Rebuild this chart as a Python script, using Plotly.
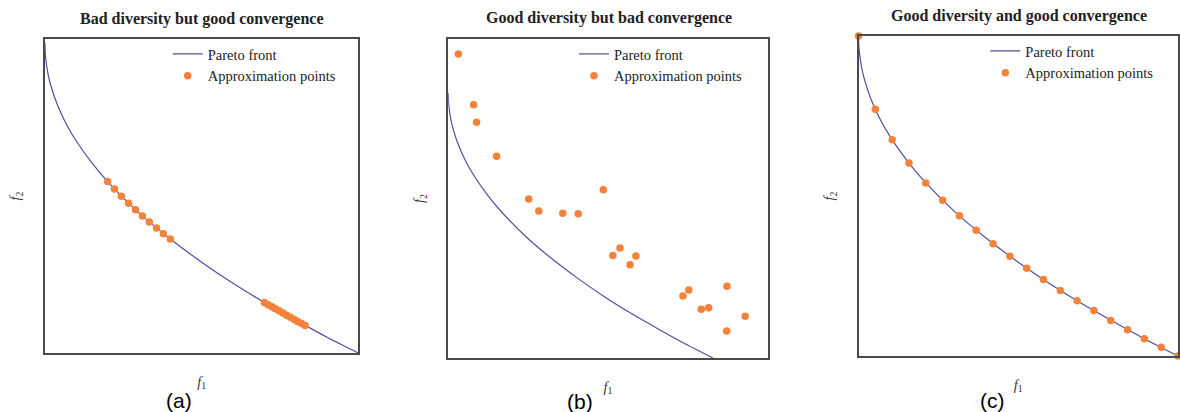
import plotly.graph_objects as go

# ---------------- data ----------------
front_f1 = [0.0, 0.0005, 0.002, 0.01, 0.02, 0.04, 0.07, 0.1, 0.15, 0.2, 0.3, 0.4,
            0.5, 0.6, 0.7, 0.8, 0.9, 1.0]
front_f2 = [1.0, 0.978, 0.955, 0.9, 0.859, 0.8, 0.735, 0.684, 0.613, 0.553, 0.452, 0.368,
            0.293, 0.225, 0.163, 0.106, 0.051, 0.0]

a_f1 = [0.2, 0.222, 0.244, 0.267, 0.289, 0.311, 0.333, 0.356, 0.378, 0.4,
        0.70, 0.712, 0.724, 0.735, 0.747, 0.759, 0.771, 0.783, 0.795, 0.806, 0.818, 0.83]
a_f2 = [0.553, 0.529, 0.506, 0.483, 0.462, 0.442, 0.423, 0.403, 0.385, 0.368,
        0.163, 0.156, 0.149, 0.143, 0.136, 0.129, 0.122, 0.115, 0.108, 0.102, 0.096, 0.089]

b_f1 = [0.038, 0.096, 0.107, 0.183, 0.304, 0.342, 0.433, 0.491, 0.586, 0.622,
        0.649, 0.687, 0.709, 0.887, 0.909, 0.956, 0.984, 1.053, 1.052, 1.122]
b_f2 = [1.147, 0.956, 0.890, 0.761, 0.600, 0.555, 0.546, 0.544, 0.635, 0.387,
        0.415, 0.352, 0.385, 0.234, 0.257, 0.184, 0.190, 0.271, 0.102, 0.158]

c_f1 = [0.0, 0.0526, 0.1053, 0.1579, 0.2105, 0.2632, 0.3158, 0.3684, 0.4211, 0.4737,
        0.5263, 0.5789, 0.6316, 0.6842, 0.7368, 0.7895, 0.8421, 0.8947, 0.9474, 1.0]
c_f2 = [1.0, 0.771, 0.676, 0.603, 0.541, 0.487, 0.438, 0.393, 0.351, 0.312,
        0.274, 0.239, 0.205, 0.173, 0.142, 0.111, 0.082, 0.054, 0.027, 0.0]

titles = ["Bad diversity but good convergence",
          "Good diversity but bad convergence",
          "Good diversity and good convergence"]
panel_labels = ["(a)", "(b)", "(c)"]
front_name = "Pareto front"
points_name = "Approximation points"

# ---------------- styling / layout ----------------
W, H = 1180, 412
LINE_COLOR = "#4f4f9f"
DOT_COLOR = "#f5823a"
BOX_COLOR = "#4a4a4a"
SERIF = "Liberation Serif, DejaVu Serif, serif"

def fx(p):
    return p / W

def fy(p):
    return 1 - p / H

# panel boxes in pixels: (left, right, top, bottom)
boxes = [(45, 359, 39, 353), (449, 769, 39, 358), (860, 1180, 36, 356)]
ranges = [([0, 1], [0, 1.013]), ([0, 1.207], [0, 1.204]), ([0, 1], [0, 1])]
points = [(a_f1, a_f2), (b_f1, b_f2), (c_f1, c_f2)]
legend_pos = [(168, 38), (575, 38), (987, 35)]
title_pos = [(202, 19), (610, 18), (1021, 16)]
label_pos = [(179, 400), (581, 401), (994, 400)]

fig = go.Figure()
layout = dict(
    width=W, height=H,
    margin=dict(l=0, r=0, t=0, b=0),
    paper_bgcolor="white", plot_bgcolor="white",
    showlegend=True,
    annotations=[],
)

for i in range(3):
    sfx = "" if i == 0 else str(i + 1)
    xa, ya = "x" + sfx, "y" + sfx
    lg = "legend" + sfx
    l, r, t, b = boxes[i]
    fig.add_trace(go.Scatter(
        x=front_f1, y=front_f2, mode="lines", name=front_name,
        line=dict(color=LINE_COLOR, width=1.2, shape="spline", smoothing=0.6),
        xaxis=xa, yaxis=ya, legend=lg, cliponaxis=False, hoverinfo="skip"))
    px, py = points[i]
    fig.add_trace(go.Scatter(
        x=px, y=py, mode="markers", name=points_name,
        marker=dict(color=DOT_COLOR, size=7.5, line=dict(width=0)),
        xaxis=xa, yaxis=ya, legend=lg, cliponaxis=False))
    axis_common = dict(showgrid=False, zeroline=False, showticklabels=False,
                       ticks="", showline=True, mirror=True,
                       linecolor=BOX_COLOR, linewidth=1.5)
    layout["xaxis" + sfx] = dict(
        axis_common, domain=[fx(l), fx(r)], range=ranges[i][0],
        anchor=ya,
        title=dict(text="<i>f</i><sub>1</sub>", standoff=23,
                   font=dict(family=SERIF, size=14, color="#333")))
    layout["yaxis" + sfx] = dict(
        axis_common, domain=[fy(b), fy(t)], range=ranges[i][1],
        anchor=xa,
        title=dict(text="<i>f</i><sub>2</sub>", standoff=19,
                   font=dict(family=SERIF, size=14, color="#333")))
    lx, ly = legend_pos[i]
    layout[lg] = dict(x=fx(lx), y=fy(ly), xanchor="left", yanchor="top",
                      bgcolor="rgba(0,0,0,0)", borderwidth=0,
                      font=dict(family=SERIF, size=14.5, color="#222"),
                      tracegroupgap=0)
    tx, ty = title_pos[i]
    layout["annotations"].append(dict(
        text="<b>" + titles[i] + "</b>", x=fx(tx), y=fy(ty), xref="paper", yref="paper",
        xanchor="center", yanchor="middle", showarrow=False,
        font=dict(family=SERIF, size=16, color="#222")))
    ax_, ay_ = label_pos[i]
    layout["annotations"].append(dict(
        text=panel_labels[i], x=fx(ax_), y=fy(ay_), xref="paper", yref="paper",
        xanchor="center", yanchor="middle", showarrow=False,
        font=dict(family="Liberation Sans, Arial, sans-serif", size=21, color="#000")))

fig.update_layout(**layout)
fig.write_html("out.html", config={"displayModeBar": False},
               post_script="document.body.style.margin='0';document.body.style.padding='0';")
